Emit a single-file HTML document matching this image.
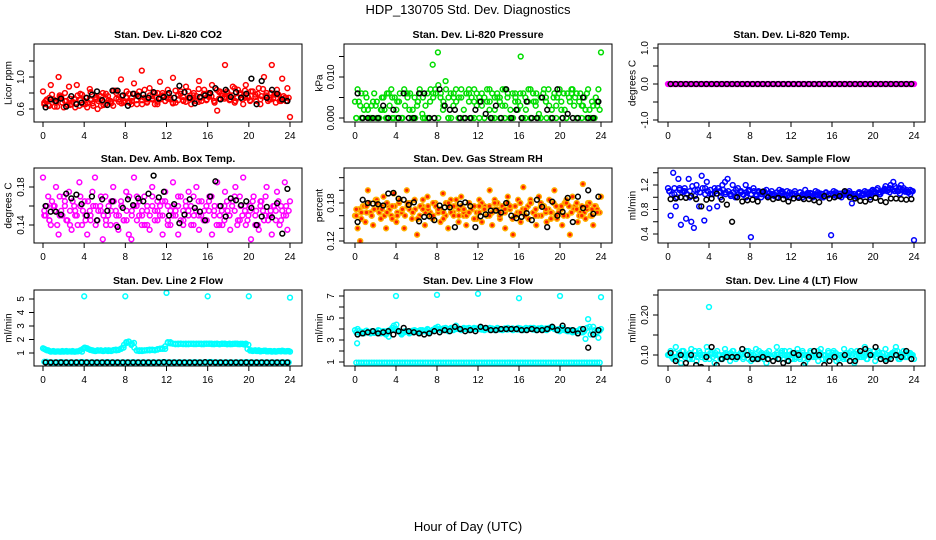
<!DOCTYPE html>
<html><head><meta charset="utf-8">
<style>
html,body{margin:0;padding:0;background:#fff;}
svg{display:block;font-family:"Liberation Sans",sans-serif;}
</style></head>
<body>
<svg id="chart" width="936" height="540" viewBox="0 0 936 540">
<text x="468" y="14" text-anchor="middle" font-size="13">HDP_130705  Std. Dev. Diagnostics</text>
<text x="468" y="531" text-anchor="middle" font-size="13">Hour of Day (UTC)</text>
</svg>
<script>
// ---- data arrays ----
const xTicks = [0,4,8,12,16,20,24];

const co2Main = [0.82,0.7,0.65,0.9,0.72,0.68,1.0,0.75,0.62,0.7,0.88,0.66,0.73,0.9,0.64,0.78,
0.7,0.62,0.85,0.67,0.74,0.6,0.72,0.8,0.66,0.76,0.7,0.64,0.83,0.72,0.97,0.68,
0.75,0.79,0.66,0.92,0.71,0.82,1.08,0.74,0.68,0.86,0.72,0.8,0.66,0.94,0.77,0.7,
0.84,0.72,0.99,0.68,0.78,0.82,0.7,0.88,0.74,0.66,0.8,0.76,0.95,0.7,0.84,0.72,
0.78,0.9,0.68,0.58,0.82,0.76,1.15,0.8,0.72,0.88,0.7,0.84,0.78,0.66,0.9,0.74,
0.82,1.45,0.7,0.86,0.76,1.0,0.8,0.72,1.15,0.78,0.84,0.7,0.98,0.74,0.86,0.5];
const co2Dense = [0.66,0.72,0.64,0.78,0.7,0.63,0.75,0.68,0.8,0.65,0.73,0.69,0.62,0.77,0.71,0.66,
0.74,0.68,0.81,0.64,0.72,0.7,0.76,0.65,0.79,0.71,0.67,0.83,0.73,0.69,0.76,0.7,
0.82,0.68,0.74,0.79,0.66,0.75,0.71,0.84,0.69,0.77,0.73,0.66,0.8,0.72,0.76,0.7,
0.78,0.74,0.68,0.83,0.71,0.79,0.75,0.69,0.82,0.73,0.77,0.7,0.85,0.74,0.78,0.71,
0.8,0.76,0.7,0.84,0.73,0.79,0.75,0.82,0.71,0.77,0.86,0.74,0.8,0.72,0.83,0.76,
0.7,0.82,0.75,0.79,0.72,0.85,0.77,0.7,0.8,0.74,0.68,0.78,0.72,0.76,0.7,0.74];
const co2Extra = [0.68,0.74,0.63,0.77,0.7,0.65,0.72,0.79,0.66,0.71,0.75,0.64,0.73,0.69,0.8,0.67,0.74,0.7,0.78,0.66,0.72,0.76,0.69,0.8,0.73,0.67,0.77,0.71,0.82,0.74,0.69,0.79,0.75,0.7,0.81,0.73,0.77,0.68,0.8,0.74,0.71,0.78,0.66,0.75,0.72,0.79,0.7,0.74];
const co2Black = [0.62,0.72,0.7,0.73,0.63,0.76,0.66,0.68,0.74,0.78,0.82,0.71,0.65,0.83,0.83,0.77,0.64,0.79,0.76,0.78,0.74,0.81,0.73,0.75,0.8,0.74,0.89,0.81,0.74,0.67,0.75,0.77,0.8,0.86,0.72,0.84,0.75,0.81,0.74,0.79,0.98,0.66,0.95,0.74,0.84,0.79,0.72,0.7];

const presMain = [0.004,0.007,0.003,0,0.006,0.002,0,0.004,0.003,0,0.002,0.005,0,0.006,0.007,0,
0.002,0.004,0,0.007,0.006,0.002,0,0.005,0.003,0.007,0.001,0,0.006,0.004,0.013,0.007,
0.016,0.005,0.002,0.009,0,0.006,0.003,0.007,0,0.005,0.002,0.006,0.007,0,0.004,0.006,
0.005,0.003,0,0.007,0.004,0.006,0.002,0.005,0,0.007,0.003,0.006,0.002,0,0.005,0.004,
0.015,0.006,0.002,0.007,0,0.004,0.006,0.001,0.005,0.007,0,0.003,0.002,0.006,0.005,0.007,
0,0.002,0.006,0.004,0.007,0.005,0,0.006,0.003,0.002,0.007,0,0.003,0.005,0.007,0.016];
const presDense = [0,0.004,0.006,0.002,0.005,0,0.003,0.006,0.004,0,0.005,0.002,0.006,0.003,0,0.005,
0.004,0.006,0,0.003,0.005,0.006,0.002,0,0.004,0.006,0.005,0.003,0,0.007,0.005,0.006,
0.008,0.006,0.004,0.007,0.005,0,0.006,0.004,0.005,0.007,0,0.006,0.004,0.005,0.007,0.003,
0,0.006,0.005,0.004,0.007,0,0.005,0.006,0.004,0.003,0.007,0.005,0,0.006,0.004,0.002,
0.006,0,0.005,0.004,0.007,0.006,0.003,0,0.005,0.006,0.004,0.007,0,0.005,0.003,0.006,
0.004,0.006,0,0.005,0.007,0.003,0.006,0.004,0,0.005,0.006,0.002,0.004,0,0.003,0.002];
const presExtra = [0,0,0.003,0,0,0.002,0,0.005,0,0,0.006,0,0.004,0,0,0.006,0,0.003,0,0.005,0,0,0.006,0,0.004,0,0.002,0,0.005,0,0,0.006,0.003,0,0,0.004,0,0.005,0,0,0.002,0,0.006,0,0.003,0,0,0.004];
const presBlack = [0.006,0,0,0,0,0.003,0,0.002,0,0.006,0,0,0.006,0.006,0,0,0.007,0.003,0.002,0.002,0,0,0,0.002,0.004,0.001,0,0.003,0,0.007,0,0.002,0,0.004,0,0,0.005,0.002,0,0.007,0,0.001,0,0,0.005,0,0,0.004];

const ltempMain = [0,0,0,0,0,0,0,0,0,0,0,0,0,0,0,0,0,0,0,0,0,0,0,0,0,0,0,0,0,0,0,0,0,0,0,0,0,0,0,0,0,0,0,0,0,0,0,0,
0,0,0,0,0,0,0,0,0,0,0,0,0,0,0,0,0,0,0,0,0,0,0,0,0,0,0,0,0,0,0,0,0,0,0,0,0,0,0,0,0,0,0,0,0,0,0,0];
const ltempBlack = [0,0,0,0,0,0,0,0,0,0,0,0,0,0,0,0,0,0,0,0,0,0,0,0,0,0,0,0,0,0,0,0,0,0,0,0,0,0,0,0,0,0,0,0,0,0,0,0];

const ambMain = [0.19,0.15,0.17,0.14,0.16,0.18,0.13,0.155,0.17,0.145,0.175,0.135,0.16,0.15,0.185,0.14,
0.165,0.13,0.155,0.175,0.19,0.145,0.16,0.125,0.17,0.15,0.14,0.18,0.155,0.135,0.165,0.145,
0.175,0.13,0.125,0.19,0.16,0.15,0.14,0.17,0.155,0.135,0.18,0.145,0.165,0.15,0.13,0.175,
0.16,0.14,0.185,0.155,0.13,0.17,0.145,0.16,0.175,0.14,0.15,0.18,0.135,0.165,0.155,0.145,
0.17,0.13,0.16,0.185,0.15,0.14,0.175,0.155,0.135,0.165,0.18,0.145,0.16,0.19,0.14,0.15,
0.125,0.17,0.155,0.135,0.165,0.145,0.18,0.15,0.13,0.16,0.175,0.14,0.155,0.185,0.135,0.165];
const ambDense = [0.15,0.16,0.145,0.165,0.155,0.14,0.17,0.15,0.16,0.145,0.155,0.165,0.15,0.14,0.16,0.155,
0.145,0.165,0.15,0.16,0.14,0.155,0.17,0.15,0.145,0.16,0.155,0.165,0.14,0.15,0.16,0.145,
0.155,0.17,0.15,0.16,0.145,0.165,0.155,0.14,0.16,0.15,0.17,0.155,0.145,0.16,0.15,0.165,
0.14,0.155,0.16,0.15,0.17,0.145,0.155,0.165,0.15,0.16,0.14,0.155,0.165,0.15,0.145,0.16,
0.155,0.17,0.15,0.14,0.16,0.155,0.145,0.165,0.15,0.16,0.155,0.14,0.17,0.15,0.16,0.145,
0.155,0.165,0.15,0.14,0.16,0.155,0.17,0.145,0.15,0.16,0.155,0.165,0.145,0.15,0.16,0.155];
const ambExtra = [0.155,0.145,0.16,0.15,0.165,0.14,0.155,0.17,0.15,0.145,0.16,0.155,0.14,0.165,0.15,0.16,0.145,0.155,0.17,0.15,0.14,0.16,0.155,0.165,0.145,0.15,0.16,0.14,0.155,0.17,0.15,0.145,0.165,0.155,0.14,0.16,0.15,0.17,0.145,0.155,0.16,0.14,0.165,0.15,0.155,0.145,0.16,0.15];
const ambBlack = [0.16,0.154,0.154,0.151,0.173,0.168,0.172,0.162,0.15,0.17,0.145,0.167,0.155,0.165,0.138,0.158,0.167,0.161,0.168,0.165,0.173,0.192,0.169,0.175,0.15,0.162,0.142,0.151,0.167,0.158,0.154,0.145,0.17,0.186,0.16,0.149,0.168,0.166,0.161,0.165,0.158,0.14,0.149,0.159,0.148,0.163,0.131,0.178];

const rhMain = [0.16,0.14,0.12,0.175,0.15,0.2,0.165,0.145,0.185,0.17,0.155,0.19,0.14,0.175,0.16,0.195,
0.15,0.18,0.165,0.14,0.2,0.17,0.155,0.185,0.13,0.16,0.175,0.145,0.19,0.165,0.155,0.18,
0.17,0.15,0.195,0.16,0.14,0.185,0.165,0.175,0.15,0.19,0.16,0.145,0.18,0.17,0.155,0.165,
0.185,0.15,0.175,0.16,0.2,0.145,0.17,0.18,0.155,0.165,0.14,0.19,0.175,0.13,0.16,0.185,
0.15,0.205,0.17,0.155,0.18,0.165,0.145,0.19,0.16,0.175,0.15,0.185,0.165,0.2,0.155,0.17,
0.145,0.18,0.16,0.13,0.19,0.175,0.15,0.165,0.21,0.155,0.18,0.16,0.145,0.175,0.165,0.19];
const rhDense = [0.16,0.17,0.155,0.175,0.165,0.18,0.16,0.17,0.185,0.165,0.175,0.16,0.18,0.17,0.155,0.175,
0.165,0.185,0.17,0.16,0.175,0.18,0.165,0.17,0.155,0.175,0.185,0.165,0.17,0.16,0.18,0.175,
0.165,0.17,0.155,0.18,0.175,0.165,0.16,0.185,0.17,0.175,0.165,0.16,0.18,0.17,0.175,0.155,
0.165,0.18,0.17,0.16,0.175,0.165,0.185,0.17,0.16,0.175,0.165,0.18,0.17,0.155,0.175,0.165,
0.18,0.17,0.16,0.175,0.185,0.165,0.17,0.16,0.18,0.175,0.165,0.17,0.155,0.18,0.175,0.165,
0.17,0.16,0.185,0.175,0.165,0.17,0.18,0.16,0.175,0.165,0.17,0.18,0.16,0.175,0.17,0.165];
const rhExtra = [0.17,0.165,0.175,0.16,0.18,0.17,0.165,0.175,0.16,0.17,0.18,0.165,0.155,0.17,0.175,0.16,0.17,0.165,0.18,0.175,0.16,0.17,0.165,0.155,0.175,0.17,0.16,0.18,0.165,0.17,0.175,0.16,0.165,0.17,0.18,0.16,0.175,0.17,0.165,0.16,0.175,0.18,0.165,0.17,0.16,0.175,0.17,0.165];
const rhBlack = [0.15,0.185,0.18,0.179,0.178,0.176,0.195,0.196,0.187,0.185,0.177,0.181,0.151,0.158,0.159,0.153,0.176,0.173,0.173,0.142,0.179,0.181,0.175,0.142,0.159,0.162,0.168,0.168,0.165,0.18,0.16,0.156,0.158,0.164,0.153,0.185,0.174,0.142,0.182,0.16,0.166,0.188,0.15,0.19,0.172,0.2,0.163,0.19];

const flowMain = [1.15,0.7,1.4,0.85,1.3,0.55,1.1,0.65,1.3,0.6,0.5,1.2,0.85,1.35,0.62,1.25,
0.82,1.05,1.15,0.85,1.1,1.2,1.25,1.3,1.05,1.2,1.0,1.15,1.1,1.05,1.2,1.1,
0.35,1.15,1.05,1.1,1.0,1.08,1.12,1.02,1.1,1.05,1.0,1.12,1.08,1.03,1.1,1.0,
1.06,1.1,1.02,1.08,1.0,1.12,1.04,1.07,1.0,1.1,1.03,1.06,1.0,1.08,1.04,0.38,
1.1,1.02,1.06,1.0,1.08,1.04,1.1,0.9,1.05,1.0,1.08,1.03,1.1,1.05,1.0,1.12,
1.08,1.15,1.05,1.1,1.18,1.12,1.2,1.25,1.15,1.1,1.2,1.15,1.12,1.08,1.1,0.3];
const flowDense = [1.1,1.05,1.15,1.0,1.12,1.08,1.15,1.05,1.1,1.18,1.02,1.12,1.08,1.15,1.05,1.1,
1.12,1.05,1.1,1.15,1.08,1.12,1.05,1.1,1.02,1.08,1.12,1.05,1.1,1.04,1.08,1.12,
1.05,1.1,1.02,1.08,1.05,1.1,1.03,1.07,1.05,1.02,1.08,1.04,1.1,1.05,1.02,1.08,
1.04,1.06,1.02,1.08,1.05,1.03,1.07,1.02,1.06,1.04,1.08,1.02,1.05,1.07,1.03,1.06,
1.04,1.08,1.02,1.06,1.04,1.07,1.03,1.06,1.05,1.02,1.08,1.04,1.06,1.08,1.05,1.1,
1.07,1.12,1.08,1.1,1.14,1.1,1.15,1.12,1.18,1.1,1.15,1.12,1.1,1.08,1.12,1.1];
const flowExtra = [1.1,1.05,1.15,1.1,1.0,1.12,1.08,1.15,1.05,1.1,1.0,1.08,1.05,1.02,1.08,1.0,1.05,1.03,1.08,1.02,1.05,1.0,1.06,1.03,1.05,1.0,1.04,1.07,1.02,1.05,1.0,1.04,1.06,1.02,1.05,1.07,1.02,1.06,1.04,1.08,1.1,1.05,1.12,1.08,1.1,1.06,1.09,1.05];
const flowBlack = [0.97,0.98,1.0,0.99,1.02,0.97,0.85,0.96,0.98,1.06,0.96,0.88,0.6,1.0,0.93,0.95,0.96,0.93,1.09,1.0,0.97,0.99,0.97,0.93,0.98,0.99,0.97,0.97,0.95,0.92,1.02,0.98,1.0,1.02,1.1,1.0,0.98,0.94,0.93,0.96,0.99,0.94,0.92,0.98,0.98,0.97,0.96,0.97];

const l2Main = [1.35,1.25,1.2,1.1,1.15,1.1,1.12,1.1,1.1,1.15,1.12,1.1,1.1,1.12,1.15,1.1,
1.4,1.35,1.25,1.2,1.15,1.2,1.18,1.15,1.2,1.15,1.18,1.2,1.25,1.22,1.3,1.4,
1.8,1.85,1.6,1.75,1.2,1.15,1.2,1.18,1.2,1.25,1.22,1.2,1.25,1.3,1.35,1.3,
1.75,1.8,1.7,1.68,1.65,1.7,1.68,1.65,1.7,1.68,1.66,1.7,1.68,1.65,1.7,1.68,
1.7,1.66,1.68,1.7,1.65,1.68,1.7,1.66,1.65,1.68,1.7,1.66,1.68,1.65,1.7,1.6,
1.2,1.18,1.15,1.2,1.15,1.18,1.12,1.15,1.1,1.15,1.12,1.15,1.18,1.12,1.15,1.1];
const l2Dense = [1.3,1.2,1.15,1.12,1.1,1.12,1.1,1.15,1.12,1.1,1.12,1.15,1.1,1.12,1.2,1.3,
1.38,1.3,1.22,1.18,1.15,1.18,1.2,1.15,1.18,1.2,1.15,1.22,1.2,1.25,1.35,1.6,
1.75,1.8,1.7,1.4,1.18,1.2,1.15,1.2,1.22,1.2,1.25,1.22,1.28,1.32,1.3,1.5,
1.8,1.72,1.7,1.65,1.7,1.68,1.66,1.7,1.65,1.68,1.7,1.66,1.68,1.7,1.65,1.7,
1.68,1.7,1.65,1.68,1.66,1.7,1.68,1.65,1.7,1.66,1.68,1.7,1.65,1.68,1.62,1.3,
1.18,1.15,1.2,1.15,1.12,1.15,1.18,1.12,1.15,1.12,1.1,1.15,1.12,1.15,1.12,1.15];
const l2Low = [0.35,0.3,0.3,0.32,0.3,0.3,0.3,0.33,0.3,0.3,0.3,0.3,0.32,0.3,0.3,0.3,0.3,0.31,0.3,0.3,0.3,0.3,0.3,0.32,0.3,0.3,0.3,0.3,0.3,0.31,0.3,0.3,0.33,0.3,0.3,0.3,0.3,0.3,0.3,0.32,0.3,0.3,0.3,0.3,0.3,0.3,0.31,0.3];
const l2OutHours = [4,8,12,16,20,24];
const l2OutVals = [5.2,5.2,5.45,5.2,5.2,5.1];
const l2Black = [0.3,0.3,0.3,0.3,0.3,0.3,0.3,0.3,0.3,0.3,0.3,0.3,0.3,0.3,0.3,0.3,0.3,0.3,0.3,0.3,0.3,0.3,0.3,0.32,0.3,0.3,0.3,0.3,0.3,0.3,0.3,0.32,0.3,0.3,0.3,0.3,0.3,0.3,0.3,0.3,0.3,0.3,0.3,0.3,0.3,0.3,0.3,0.3];

const l3Main = [3.9,4.0,3.6,3.7,3.8,3.7,3.6,3.8,3.7,3.9,3.6,3.8,3.5,3.3,3.9,4.3,
4.4,3.8,3.5,3.7,3.8,3.6,3.7,3.9,3.8,3.7,3.9,3.8,4.0,3.7,3.9,4.0,
4.2,4.0,3.9,4.1,3.8,4.0,3.9,4.3,4.0,3.9,4.1,4.0,3.9,4.0,4.1,4.0,
4.0,4.1,3.9,4.0,4.1,4.0,3.9,4.1,4.0,3.9,4.0,4.1,4.0,3.9,4.0,4.1,
4.0,3.9,4.1,4.0,4.0,4.1,3.9,4.0,4.1,4.0,3.9,4.1,4.2,4.0,3.9,3.8,
4.1,3.9,3.8,3.9,3.7,3.8,3.6,4.0,3.7,3.1,4.9,3.5,4.2,3.6,3.2,4.0];
const l3Dense = [3.7,3.8,3.75,3.6,3.85,3.7,3.8,3.65,3.75,3.85,3.7,3.6,3.8,3.9,4.1,4.0,
3.9,3.7,3.6,3.8,3.75,3.7,3.85,3.8,3.75,3.9,3.8,3.85,3.9,3.8,3.95,4.1,
4.0,3.9,4.05,3.95,4.0,4.1,3.95,4.0,4.05,3.95,4.0,4.05,4.1,3.95,4.0,4.05,
4.0,3.95,4.05,4.0,3.95,4.05,4.0,4.05,3.95,4.0,4.05,3.95,4.0,4.05,4.0,3.95,
4.05,4.0,3.95,4.05,4.1,3.95,4.0,4.05,4.0,3.95,4.05,4.0,4.1,4.05,3.95,4.0,
3.9,4.0,3.85,3.8,3.9,3.75,3.8,3.9,3.7,3.8,4.1,4.2,3.8,3.9,3.7,3.85];
const l3Low = [0.95,0.95,0.95,0.95,0.95,0.95,0.95,0.95,0.95,0.95,0.95,0.95,0.95,0.95,0.95,0.95,0.95,0.95,0.95,0.95,0.95,0.95,0.95,0.95,0.95,0.95,0.95,0.95,0.95,0.95,0.95,0.95,0.95,0.95,0.95,0.95,0.95,0.95,0.95,0.95,0.95,0.95,0.95,0.95,0.95,0.95,0.95,0.95];
const l3OutHours = [0.2,4,8,12,16,20,24];
const l3OutVals = [2.7,7.0,7.1,7.2,6.8,7.0,6.9];
const l3Black = [3.5,3.6,3.7,3.8,3.6,3.7,3.8,3.5,3.8,4.1,3.8,3.7,3.6,3.5,3.6,3.8,3.7,3.9,3.8,4.2,4.0,3.8,3.9,3.8,4.2,4.1,3.9,3.9,4.0,4.0,4.0,4.0,3.9,3.9,4.0,3.9,3.9,4.0,4.2,3.9,4.3,3.9,3.9,3.6,4.0,2.3,3.5,3.9];

const l4Main = [0.1,0.11,0.09,0.12,0.1,0.08,0.11,0.1,0.09,0.115,0.1,0.085,0.11,0.095,0.1,0.12,
0.09,0.105,0.08,0.11,0.1,0.09,0.115,0.1,0.085,0.11,0.1,0.095,0.105,0.09,0.1,0.11,
0.085,0.1,0.115,0.09,0.105,0.1,0.08,0.11,0.095,0.1,0.12,0.09,0.105,0.1,0.085,0.11,
0.1,0.095,0.115,0.09,0.105,0.08,0.1,0.11,0.095,0.1,0.085,0.115,0.1,0.09,0.105,0.1,
0.11,0.085,0.1,0.095,0.115,0.09,0.105,0.1,0.08,0.11,0.095,0.1,0.12,0.09,0.105,0.1,
0.085,0.11,0.1,0.095,0.115,0.09,0.1,0.105,0.12,0.09,0.1,0.11,0.095,0.105,0.1,0.09];
const l4Dense = [0.1,0.095,0.105,0.09,0.1,0.11,0.095,0.1,0.105,0.09,0.1,0.095,0.105,0.1,0.09,0.11,
0.1,0.095,0.105,0.1,0.09,0.1,0.105,0.095,0.1,0.11,0.09,0.1,0.105,0.095,0.1,0.09,
0.105,0.1,0.095,0.11,0.1,0.09,0.105,0.1,0.095,0.1,0.105,0.09,0.1,0.11,0.095,0.1,
0.105,0.09,0.1,0.095,0.11,0.1,0.09,0.105,0.1,0.095,0.1,0.105,0.09,0.1,0.11,0.095,
0.1,0.105,0.09,0.1,0.095,0.105,0.1,0.11,0.09,0.1,0.105,0.095,0.1,0.09,0.105,0.1,
0.11,0.095,0.1,0.105,0.09,0.1,0.095,0.105,0.1,0.11,0.09,0.1,0.105,0.095,0.1,0.1];
const l4Extra = [0.1,0.095,0.105,0.1,0.09,0.11,0.1,0.095,0.105,0.1,0.09,0.1,0.105,0.095,0.1,0.11,0.1,0.09,0.105,0.1,0.095,0.1,0.11,0.1,0.09,0.105,0.1,0.095,0.1,0.11,0.1,0.095,0.105,0.1,0.09,0.1,0.105,0.1,0.095,0.11,0.1,0.105,0.095,0.1,0.11,0.1,0.095,0.105];
const l4OutHours = [4,12,20];
const l4OutVals = [0.22,0.27,0.28];
const l4Black = [0.105,0.085,0.1,0.08,0.1,0.075,0.07,0.095,0.12,0.075,0.09,0.095,0.095,0.095,0.115,0.1,0.09,0.09,0.095,0.09,0.085,0.09,0.08,0.085,0.105,0.1,0.075,0.095,0.11,0.1,0.075,0.085,0.095,0.075,0.1,0.085,0.085,0.11,0.115,0.1,0.12,0.09,0.085,0.09,0.1,0.095,0.11,0.09];

// ---- layout ----
const NS = "http://www.w3.org/2000/svg";
const svg = document.getElementById('chart');
const cols = [{l:34,r:302,x0:43,x24:290,lab:9},{l:344,r:612,x0:355,x24:601,lab:320},{l:658,r:925,x0:668,x24:914,lab:633}];
const rows = [{t:44,b:122},{t:168,b:243},{t:290,b:366}];

function mk(tag, attrs, parent){
  const e = document.createElementNS(NS, tag);
  for (const k in attrs) e.setAttribute(k, attrs[k]);
  (parent||svg).appendChild(e);
  return e;
}

const panels = [
 {c:0,r:0,name:'co2',title:'Stan. Dev. Li-820 CO2',ylab:'Licor ppm',v1:0.6,p1:109,v2:1.0,p2:77,ticks:[0.6,0.8,1.0,1.2],labels:['0.6','','1.0',''],
  series:[{d:co2Main,col:'#ff0000'},{d:co2Dense,col:'#ff0000',off:0.5},{d:co2Extra,col:'#ff0000',off:0.25},{d:co2Black,col:'#000',off:0.5}]},
 {c:1,r:0,name:'pressure',title:'Stan. Dev. Li-820 Pressure',ylab:'kPa',v1:0,p1:118,v2:0.01,p2:77,ticks:[0,0.005,0.01,0.015],labels:['0.000','','0.010',''],
  series:[{d:presMain,col:'#00dd00'},{d:presDense,col:'#00dd00',off:0.5},{d:presExtra,col:'#00dd00',off:0.25},{d:presBlack,col:'#000',off:0.5}]},
 {c:2,r:0,name:'licor-temp',title:'Stan. Dev. Li-820 Temp.',ylab:'degrees C',v1:-1,p1:120,v2:1,p2:48,ticks:[-1,-0.5,0,0.5,1],labels:['-1.0','','0.0','','1.0'],
  series:[{d:ltempMain,col:'#ff00ff'},{d:ltempMain,col:'#ff00ff',off:0.5},{d:ltempBlack,col:'#000',off:0.5}]},
 {c:0,r:1,name:'amb-temp',title:'Stan. Dev. Amb. Box Temp.',ylab:'degrees C',v1:0.14,p1:225,v2:0.18,p2:187,ticks:[0.14,0.16,0.18],labels:['0.14','','0.18'],
  series:[{d:ambMain,col:'#ff00ff'},{d:ambDense,col:'#ff00ff',off:0.5},{d:ambExtra,col:'#ff00ff',off:0.25},{d:ambBlack,col:'#000',off:0.5}]},
 {c:1,r:1,name:'gas-rh',title:'Stan. Dev. Gas Stream RH',ylab:'percent',v1:0.12,p1:241,v2:0.18,p2:203,ticks:[0.12,0.14,0.16,0.18,0.2,0.22],labels:['0.12','','','0.18','',''],
  series:[{d:rhMain,col:'#ffb000',fill:'#ff2000'},{d:rhDense,col:'#ffb000',fill:'#ff2000',off:0.5},{d:rhExtra,col:'#ffb000',fill:'#ff2000',off:0.25},{d:rhBlack,col:'#000',off:0.5}]},
 {c:2,r:1,name:'sample-flow',title:'Stan. Dev. Sample Flow',ylab:'ml/min',v1:0.4,p1:234,v2:1.2,p2:185,ticks:[0.4,0.6,0.8,1.0,1.2,1.4],labels:['0.4','','0.8','','1.2',''],
  series:[{d:flowMain,col:'#0000ff'},{d:flowDense,col:'#0000ff',off:0.5},{d:flowExtra,col:'#0000ff',off:0.25},{d:flowBlack,col:'#000',off:0.5}]},
 {c:0,r:2,name:'line2-flow',title:'Stan. Dev. Line 2 Flow',ylab:'ml/min',v1:1,p1:353,v2:5,p2:299,ticks:[1,2,3,4,5],labels:['1','2','3','4','5'],
  series:[{d:l2Main,col:'#00ffff'},{d:l2Dense,col:'#00ffff',off:0.5},{d:l2Low,col:'#00ffff',off:0.25},{d:l2Low,col:'#00ffff',off:0.75},{h:l2OutHours,d:l2OutVals,col:'#00ffff'},{d:l2Black,col:'#000',off:0.5}]},
 {c:1,r:2,name:'line3-flow',title:'Stan. Dev. Line 3 Flow',ylab:'ml/min',v1:1,p1:362,v2:7,p2:296,ticks:[1,2,3,4,5,6,7],labels:['1','','3','','5','','7'],
  series:[{d:l3Main,col:'#00ffff'},{d:l3Dense,col:'#00ffff',off:0.5},{d:l3Low,col:'#00ffff',off:0.25},{d:l3Low,col:'#00ffff',off:0.75},{h:l3OutHours,d:l3OutVals,col:'#00ffff'},{d:l3Black,col:'#000',off:0.5}]},
 {c:2,r:2,name:'line4-flow',title:'Stan. Dev. Line 4 (LT) Flow',ylab:'ml/min',v1:0.1,p1:355,v2:0.2,p2:315,ticks:[0.1,0.15,0.2,0.25],labels:['0.10','','0.20',''],
  series:[{d:l4Main,col:'#00ffff'},{d:l4Dense,col:'#00ffff',off:0.5},{d:l4Extra,col:'#00ffff',off:0.25},{h:l4OutHours,d:l4OutVals,col:'#00ffff'},{d:l4Black,col:'#000',off:0.5}]}
];

panels.forEach(p => {
  const C = cols[p.c], R = rows[p.r];
  const g = mk('g', {});
  
  
  const xs = h => C.x0 + (C.x24 - C.x0) * h / 24;
  const ys = v => p.p1 + (p.p2 - p.p1) * (v - p.v1) / (p.v2 - p.v1);
  const clip = mk('clipPath', {id:'clip-' + p.name}, g);
  mk('rect', {x:C.l, y:R.t, width:C.r-C.l, height:R.b-R.t}, clip);

  const t = mk('text', {x:(C.l+C.r)/2, y:R.t-6, 'text-anchor':'middle', 'font-size':'10.5', 'font-weight':'bold'}, g);
  t.textContent = p.title;
  
  

  const yl = mk('text', {x:0, y:0, transform:'translate(' + C.lab + ',' + ((R.t+R.b)/2) + ') rotate(-90)', 'text-anchor':'middle', 'font-size':'10', 'dominant-baseline':'central'}, g);
  yl.textContent = p.ylab;
  
  

  const pts = mk('g', {'clip-path':'url(#clip-' + p.name + ')'}, g);
  
  
  p.series.forEach(s => {
    const n = s.d.length;
    s.d.forEach((v, i) => {
      const h = s.h ? s.h[i] : (s.off ? (i + s.off) * 24 / n : i * 24 / (n - 1));
      const c = mk('circle', {cx:xs(h).toFixed(1), cy:ys(v).toFixed(1), r:2.4, fill:s.fill||'none', stroke:s.col, 'stroke-width':1.5}, pts);
      
      
    });
  });

  const box = mk('rect', {x:C.l, y:R.t, width:C.r-C.l, height:R.b-R.t, fill:'none', stroke:'#000', 'stroke-width':1}, g);
  
  

  const xa = mk('g', {}, g);
  
  
  xTicks.forEach(h => {
    mk('line', {x1:xs(h), x2:xs(h), y1:R.b, y2:R.b+5, stroke:'#000'}, xa);
    const tl = mk('text', {x:xs(h), y:R.b+17, 'text-anchor':'middle', 'font-size':'10'}, xa);
    tl.textContent = h;
    
    
  });

  const ya = mk('g', {}, g);
  
  
  mk('line', {x1:C.l, x2:C.l, y1:ys(p.ticks[0]), y2:ys(p.ticks[p.ticks.length-1]), stroke:'#000'}, ya);
  p.ticks.forEach((v, i) => {
    const y = ys(v);
    mk('line', {x1:C.l-5, x2:C.l, y1:y, y2:y, stroke:'#000'}, ya);
    if (p.labels[i]) {
      const tl = mk('text', {x:0, y:0, transform:'translate(' + (C.l-10) + ',' + y + ') rotate(-90)', 'text-anchor':'middle', 'font-size':'10'}, ya);
      tl.textContent = p.labels[i];
      
      
    }
  });
});
</script>
</body></html>
